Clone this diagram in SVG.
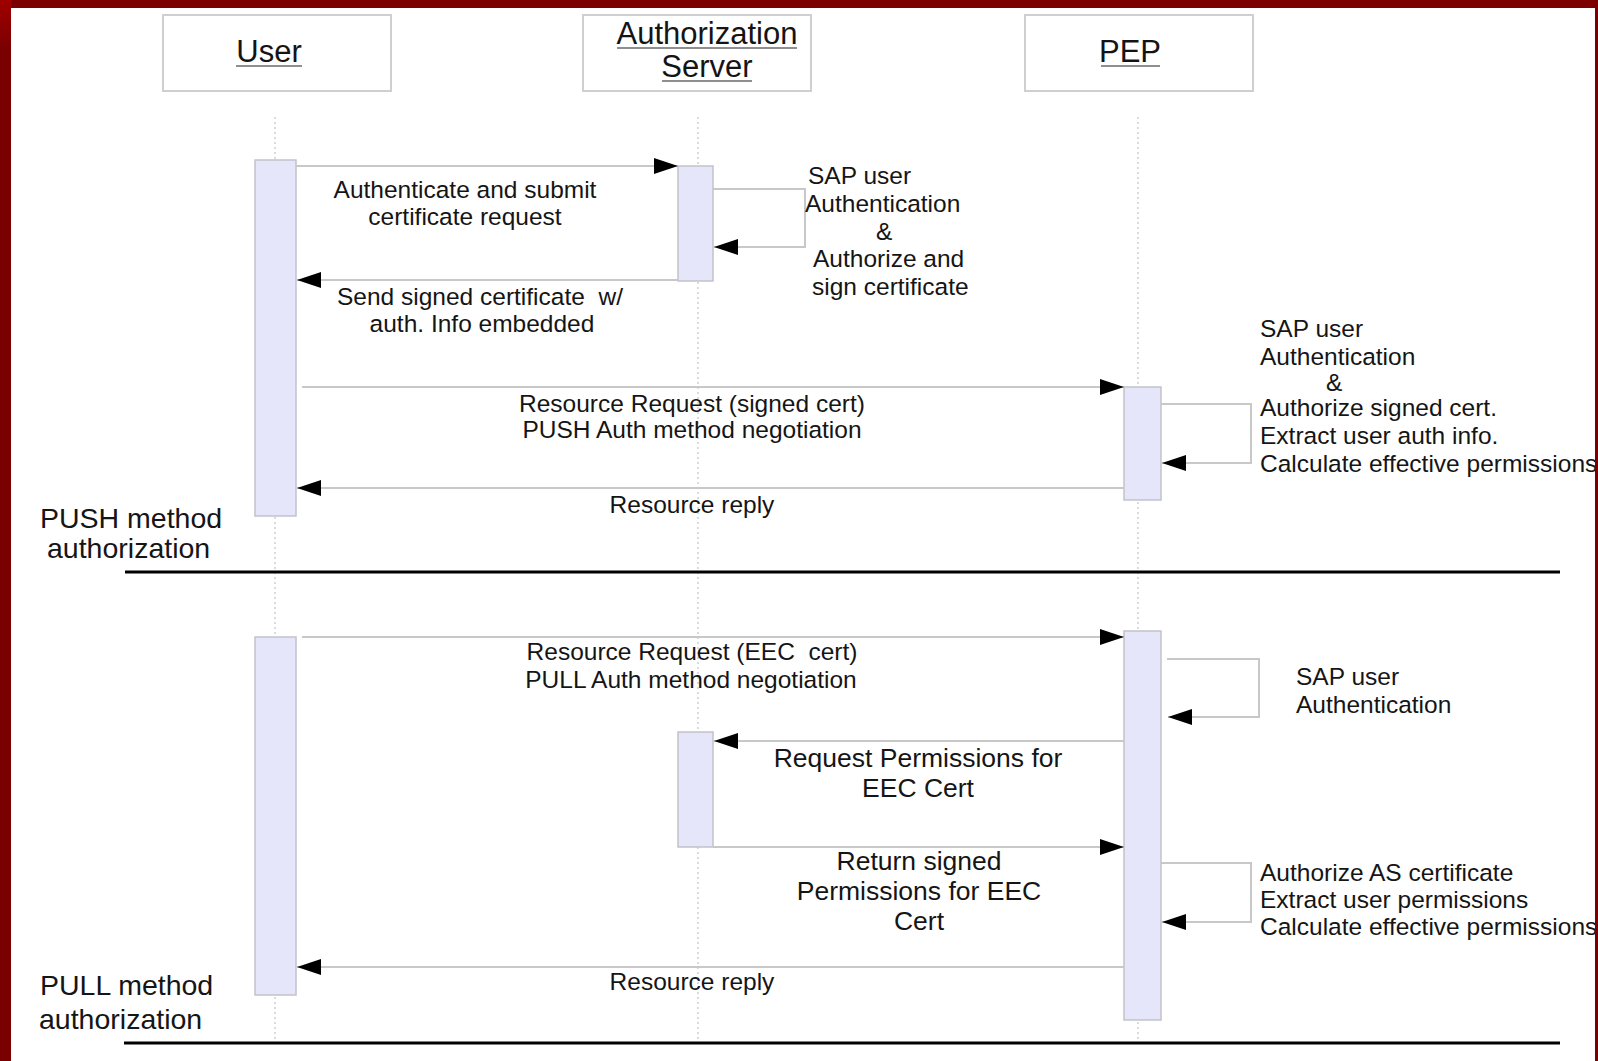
<svg xmlns="http://www.w3.org/2000/svg" width="1598" height="1061" viewBox="0 0 1598 1061">
  <defs>
    <marker id="head" markerUnits="userSpaceOnUse" markerWidth="25" markerHeight="16" refX="24" refY="8" orient="auto">
      <path d="M0,0 L24,8 L0,16 Z" fill="#000"/>
    </marker>
    <linearGradient id="corner" x1="0" y1="0" x2="0" y2="1">
      <stop offset="0" stop-color="#a00000"/>
      <stop offset="1" stop-color="#7a0000"/>
    </linearGradient>
    <style>
      .hdr { fill: #fff; stroke: #cfcfcf; stroke-width: 2; }
      .htxt { font-family: "Liberation Sans", Arial, sans-serif; font-size: 31px; fill: #141414; text-anchor: middle; }
      .uline { stroke: #6a6a6a; stroke-width: 1.5; }
      .life { stroke: #cfcfcf; stroke-width: 1.5; stroke-dasharray: 2 3; fill: none; }
      .act { fill: #e6e6fa; stroke: #c2c2cc; stroke-width: 1.5; }
      .msg { stroke: #c8c8c8; stroke-width: 2; fill: none; marker-end: url(#head); }
      .lbl { font-family: "Liberation Sans", Arial, sans-serif; font-size: 24.5px; fill: #151515; white-space: pre; }
      .big { font-family: "Liberation Sans", Arial, sans-serif; font-size: 26.5px; fill: #151515; text-anchor: middle; }
      .sec { font-family: "Liberation Sans", Arial, sans-serif; font-size: 28.5px; fill: #151515; }
      .mid { text-anchor: middle; }
      .sep { stroke: #000; stroke-width: 3; }
    </style>
  </defs>

  <rect x="0" y="0" width="1598" height="1061" fill="#fff"/>

  <!-- lifelines -->
  <g id="lifelines">
    <line class="life" x1="275" y1="117" x2="275" y2="1040"/>
    <line class="life" x1="698" y1="117" x2="698" y2="1040"/>
    <line class="life" x1="1138" y1="117" x2="1138" y2="1040"/>
  </g>

  <!-- participants -->
  <g id="user">
    <rect class="hdr" x="163" y="15" width="228" height="76"/>
    <text class="htxt" x="269" y="62">User</text>
    <line class="uline" x1="236" y1="66" x2="302" y2="66"/>
  </g>
  <g id="auth-server">
    <rect class="hdr" x="583" y="15" width="228" height="76"/>
    <text class="htxt" x="707" y="44">Authorization</text>
    <line class="uline" x1="617" y1="48" x2="797" y2="48"/>
    <text class="htxt" x="707" y="77">Server</text>
    <line class="uline" x1="662" y1="81" x2="752" y2="81"/>
  </g>
  <g id="pep">
    <rect class="hdr" x="1025" y="15" width="228" height="76"/>
    <text class="htxt" x="1130" y="62">PEP</text>
    <line class="uline" x1="1101" y1="66" x2="1160" y2="66"/>
  </g>

  <!-- activation bars -->
  <g id="user-push-activation"><rect class="act" x="255" y="160" width="41" height="356"/></g>
  <g id="as-push-activation"><rect class="act" x="678" y="166" width="35" height="115"/></g>
  <g id="pep-push-activation"><rect class="act" x="1124" y="387" width="37" height="113"/></g>
  <g id="user-pull-activation"><rect class="act" x="255" y="637" width="41" height="358"/></g>
  <g id="as-pull-activation"><rect class="act" x="678" y="732" width="35" height="115"/></g>
  <g id="pep-pull-activation"><rect class="act" x="1124" y="631" width="37" height="389"/></g>

  <!-- messages -->
  <g id="connectors">
    <!-- PUSH -->
    <line class="msg" x1="296" y1="166" x2="678" y2="166"/>
    <polyline class="msg" points="713,189 805,189 805,247 714,247"/>
    <line class="msg" x1="678" y1="280" x2="297" y2="280"/>
    <line class="msg" x1="302" y1="387" x2="1124" y2="387"/>
    <polyline class="msg" points="1161,404 1251,404 1251,463 1162,463"/>
    <line class="msg" x1="1124" y1="488" x2="297" y2="488"/>
    <!-- PULL -->
    <line class="msg" x1="302" y1="637" x2="1124" y2="637"/>
    <polyline class="msg" points="1167,659 1259,659 1259,717 1168,717"/>
    <line class="msg" x1="1124" y1="741" x2="714" y2="741"/>
    <line class="msg" x1="713" y1="847" x2="1124" y2="847"/>
    <polyline class="msg" points="1161,863 1251,863 1251,922 1162,922"/>
    <line class="msg" x1="1124" y1="967" x2="297" y2="967"/>
  </g>

  <!-- message labels -->
  <g id="labels">
    <text class="lbl mid" x="465" y="198">Authenticate and submit</text>
    <text class="lbl mid" x="465" y="225">certificate request</text>

    <text class="lbl" x="808" y="184">SAP user</text>
    <text class="lbl" x="805" y="212">Authentication</text>
    <text class="lbl" x="876" y="240">&amp;</text>
    <text class="lbl" x="813" y="267">Authorize and</text>
    <text class="lbl" x="812" y="295">sign certificate</text>

    <text class="lbl" x="337" y="305">Send signed certificate  w/</text>
    <text class="lbl mid" x="482" y="332">auth. Info embedded</text>

    <text class="lbl mid" x="692" y="412">Resource Request (signed cert)</text>
    <text class="lbl mid" x="692" y="438">PUSH Auth method negotiation</text>

    <text class="lbl" x="1260" y="337">SAP user</text>
    <text class="lbl" x="1260" y="365">Authentication</text>
    <text class="lbl" x="1326" y="391">&amp;</text>
    <text class="lbl" x="1260" y="416">Authorize signed cert.</text>
    <text class="lbl" x="1260" y="444">Extract user auth info.</text>
    <text class="lbl" x="1260" y="472">Calculate effective permissions</text>

    <text class="lbl mid" x="692" y="513">Resource reply</text>

    <text class="lbl mid" x="692" y="660">Resource Request (EEC  cert)</text>
    <text class="lbl mid" x="691" y="688">PULL Auth method negotiation</text>

    <text class="lbl" x="1296" y="685">SAP user</text>
    <text class="lbl" x="1296" y="713">Authentication</text>

    <text class="big" x="918" y="767">Request Permissions for</text>
    <text class="big" x="918" y="797">EEC Cert</text>

    <text class="big" x="919" y="870">Return signed</text>
    <text class="big" x="919" y="900">Permissions for EEC</text>
    <text class="big" x="919" y="930">Cert</text>

    <text class="lbl" x="1260" y="881">Authorize AS certificate</text>
    <text class="lbl" x="1260" y="908">Extract user permissions</text>
    <text class="lbl" x="1260" y="935">Calculate effective permissions</text>

    <text class="lbl mid" x="692" y="990">Resource reply</text>
  </g>

  <!-- section captions and dividers -->
  <g id="push-section">
    <text class="sec" x="40" y="528">PUSH method</text>
    <text class="sec" x="47" y="558">authorization</text>
    <line class="sep" x1="125" y1="572" x2="1560" y2="572"/>
  </g>
  <g id="pull-section">
    <text class="sec" x="40" y="995">PULL method</text>
    <text class="sec" x="39" y="1029">authorization</text>
    <line class="sep" x1="124" y1="1043" x2="1560" y2="1043"/>
  </g>

  <!-- slide frame -->
  <g id="frame">
    <rect x="0" y="0" width="1598" height="8" fill="#7c0000"/>
    <rect x="0" y="0" width="11" height="1061" fill="#7a0000"/>
    <rect x="0" y="0" width="11" height="50" fill="url(#corner)"/>
    <rect x="1595" y="0" width="3" height="1061" fill="#7a0000"/>
  </g>
</svg>
